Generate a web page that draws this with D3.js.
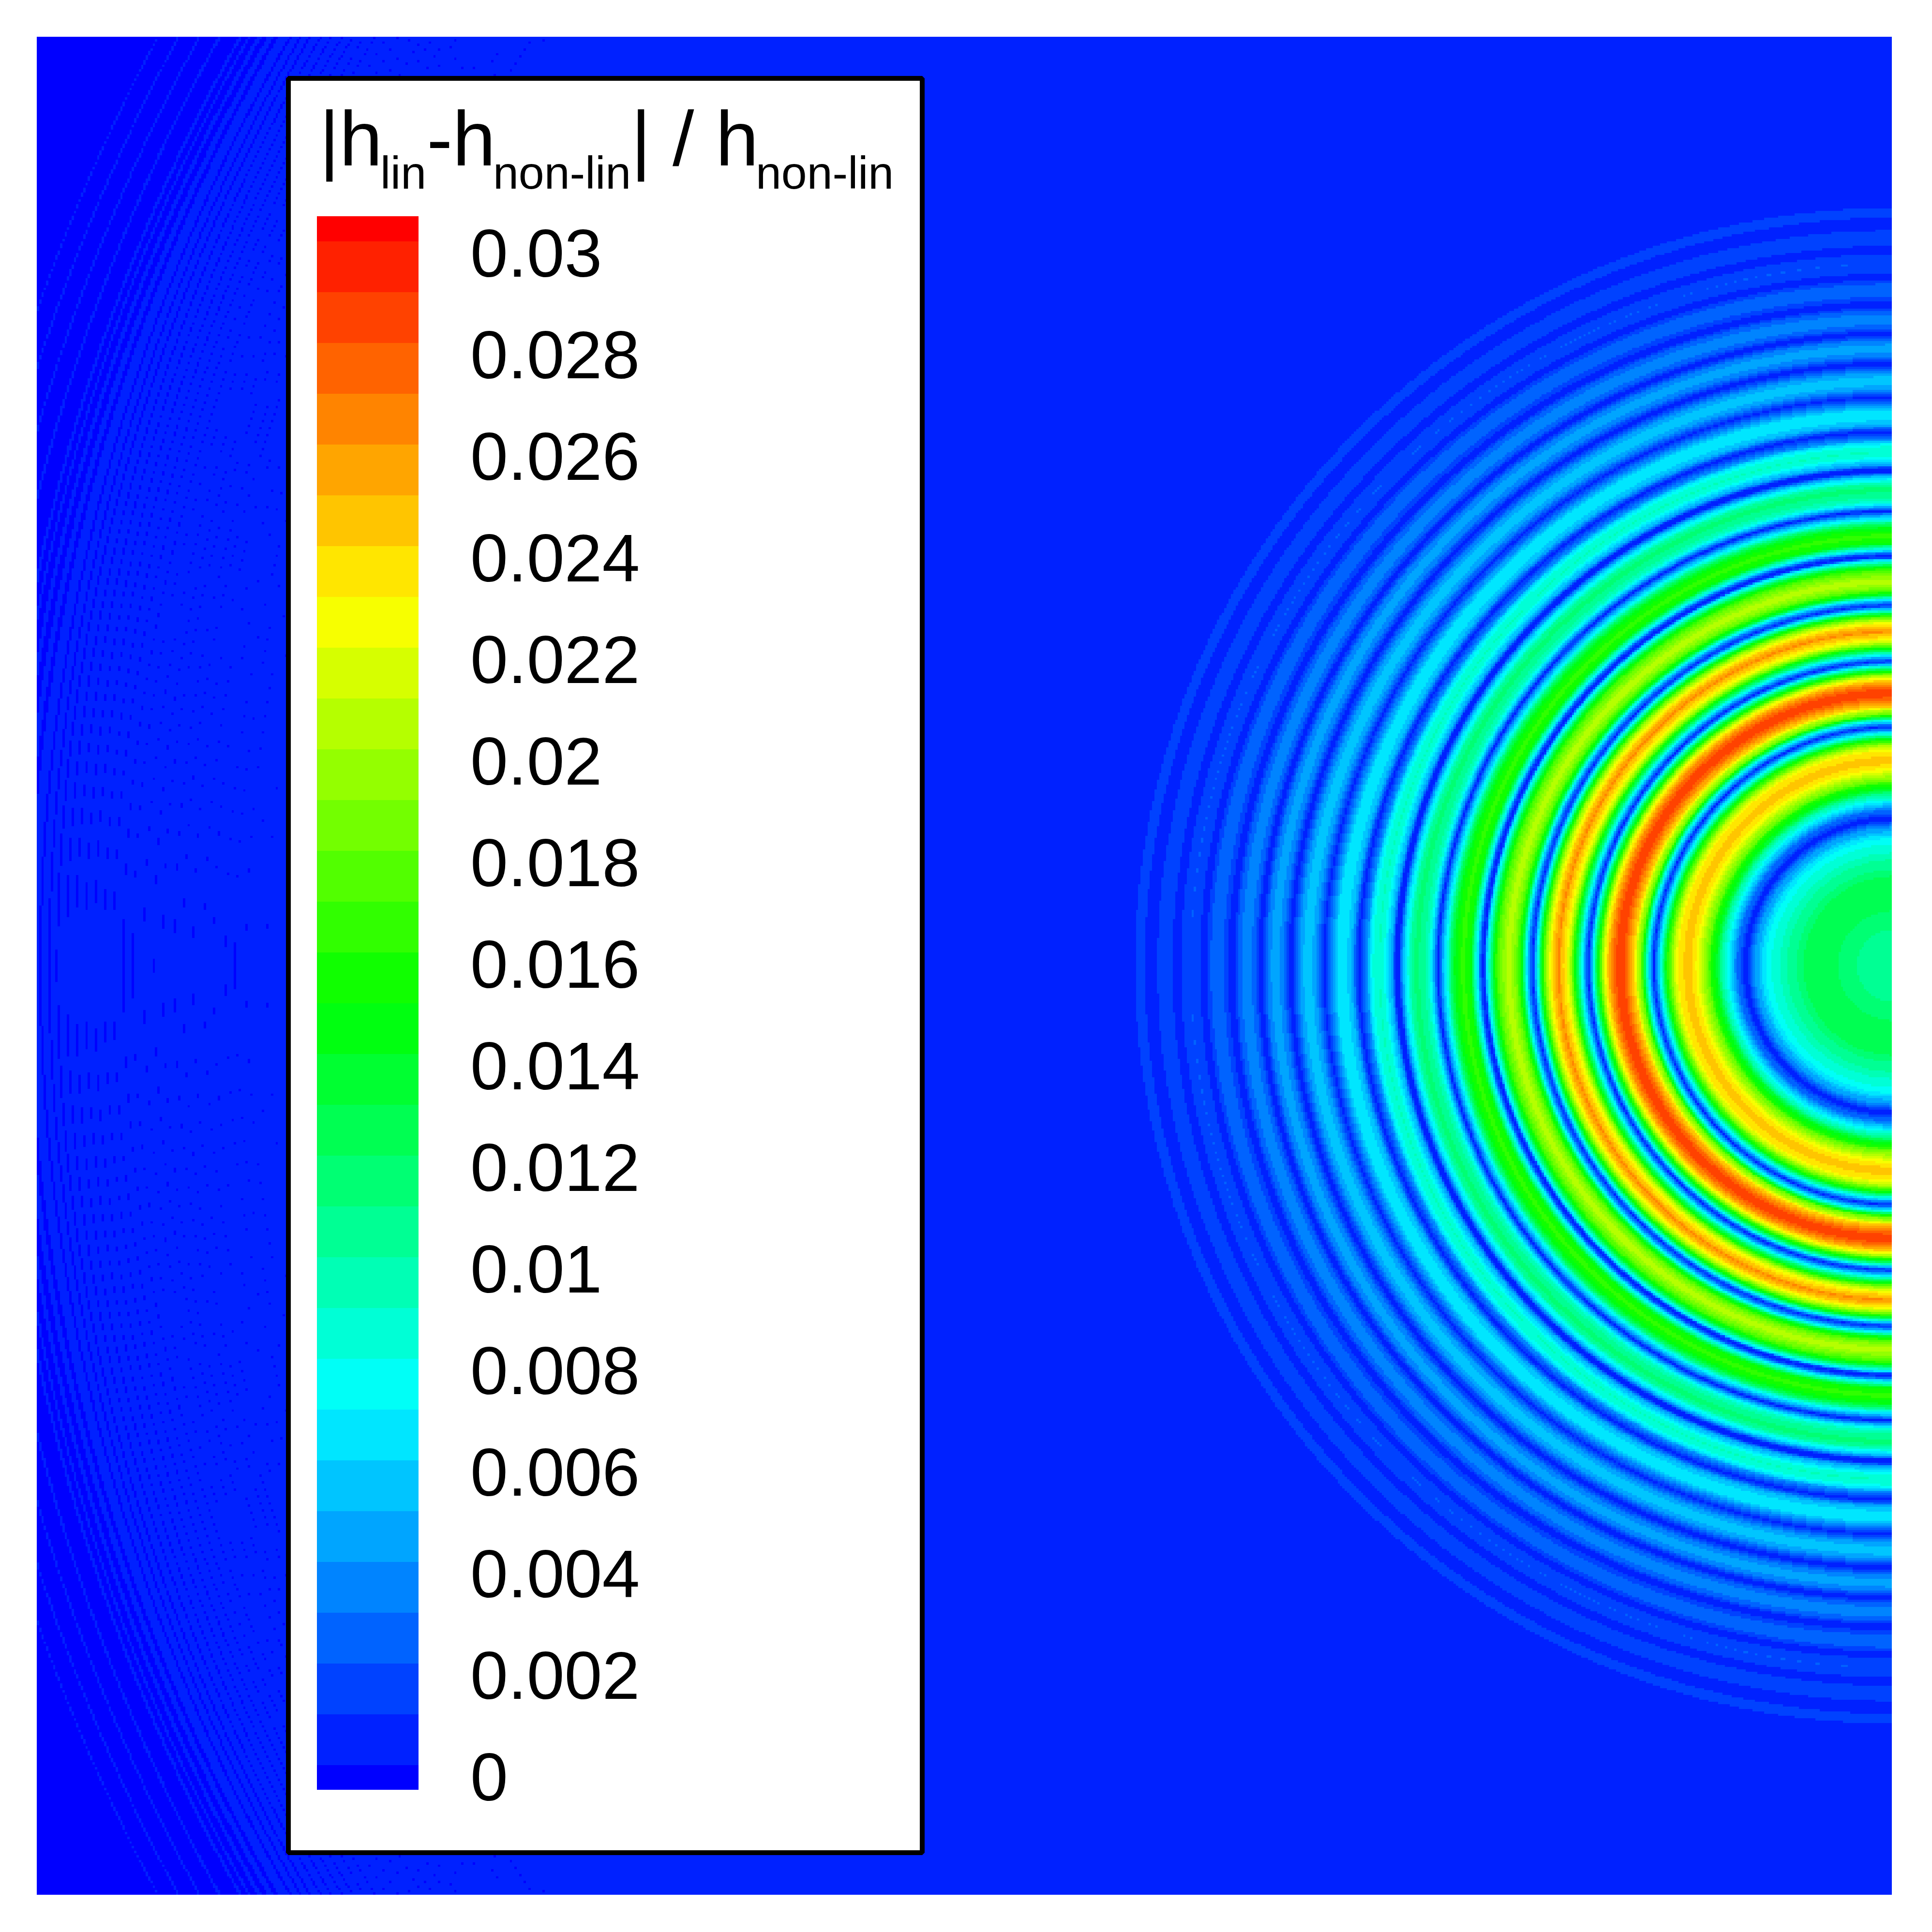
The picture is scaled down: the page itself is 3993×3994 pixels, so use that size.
<!DOCTYPE html>
<html>
<head>
<meta charset="utf-8">
<script src="https://cdnjs.cloudflare.com/ajax/libs/d3/7.8.5/d3.min.js"></script>
<style>
html,body{margin:0;padding:0;background:#fff}
#wrap{position:relative;width:3993px;height:3994px;overflow:hidden}
canvas,svg{position:absolute;left:0;top:0}
text{font-family:"Liberation Sans",Arial,sans-serif;fill:#000}
</style>
</head>
<body>
<div id="wrap"><canvas id="field" width="3993" height="3994"></canvas><svg id="over" width="3993" height="3994"></svg></div>
<script>
// contour levels and tick labels
const levelCount = 31;
const tickValues = [0,0.002,0.004,0.006,0.008,0.01,0.012,0.014,0.016,0.018,0.02,0.022,0.024,0.026,0.028,0.03];
const tickLabels = ["0","0.002","0.004","0.006","0.008","0.01","0.012","0.014","0.016","0.018","0.02","0.022","0.024","0.026","0.028","0.03"];

// radial profile: distance from the source, value in 1/1000
const profileRadius = [30,74,113,155,185,199,219,233,251,261,270,275,285,290,295,299,304,309,314,323,328,333,338,342,347,352,357,362,367,376,381,390,400,405,414,424,434,443,448,453,458,462,467,472,477,482,486,491,494,496,501,506,510,515,520,525,530,534,539,544,549,554,562,573,578,583,587,592,596,602,606,610,615,620,624,629,635,640,645,650,655,659,664,669,674,679,688,690,702,707,712,717,721,726,731,736,740,744,750,755,760,765,770,775,780,785,795,808,814,818,822,827,832,837,840,842,846,851,856,861,866,870,875,889,904,909,914,918,923,929,935,938,940,943,947,952,957,962,970,985,997,1000,1005,1009,1011,1014,1017,1019,1024,1029,1032,1035,1042,1052,1061,1072,1077,1082,1086,1091,1096,1101,1104,1106,1110,1115,1120,1129,1139,1149,1153,1158,1163,1168,1173,1175,1177,1182,1187,1192,1201,1209,1216,1225,1230,1235,1240,1245,1249,1254,1259,1269,1276,1283,1293,1297,1302,1307,1312,1317,1326,1336,1345,1355,1360,1367,1374,1384,1396,1409,1417,1425,1432,1451,1470,1480,1489,1504,1519,1533,1547,1557,1566,1569];
const profileValue = [10.6,11,12,12.6,12,11,10,9,8,7.25,6.2,5.2,4.15,3.12,2.08,1.05,0.33,1.05,2.08,3.12,4.67,5.7,6.73,7.77,8.8,9.83,11.4,13.45,14.5,16.03,18.1,19.65,21.7,22.75,23.8,24.8,23.8,23.3,21.7,20.7,18.6,17.07,15.5,12.4,9.3,6.73,4.67,2.08,0.6,2.08,4.67,7.25,10.35,14.5,18.6,19.65,21.2,23.8,24.8,25.85,26.9,27.9,28.7,27.9,26.9,25.85,24.8,23.27,21.7,18.6,16.03,13.97,10.87,7.25,3.63,0.74,3.63,6.2,8.8,11.9,13.97,16.55,19.13,21.2,22.75,23.8,25.33,26.37,24.3,22.75,21.2,19.13,17.07,14.5,10.35,6.73,3.63,0.74,3.12,5.7,8.8,13.45,15.5,17.6,18.6,19.65,20.7,18.6,17.6,16.55,15,12.93,9.83,7.25,5.2,1.57,0.53,1.57,5.2,8.3,10.35,13.45,15.5,16.34,14.5,12.93,11.4,9.3,7.25,5.2,2.6,1.05,0.53,2.08,4.15,6.2,8.3,9.3,10.35,11.5,9.83,8.3,7.25,6.2,5.2,4.15,2.6,1.05,0.33,1.05,3.12,4.67,5.9,8.3,9.1,8.3,7.25,6.2,4.15,3.12,2.08,1.05,0.33,1.05,2.08,4.15,5.2,6.2,6.94,6.2,5.2,4.15,3.12,2.08,1.05,0.33,1.05,2.08,3.12,4.15,5.2,5.9,5.2,4.15,3.12,2.08,1.05,0.33,1.05,2.08,3.12,4.15,4.87,4.15,3.12,2.08,1.05,0.33,1.05,2.08,3.12,3.84,3.12,2.08,1.05,0.33,1.05,2.08,2.8,2.08,1.05,0.33,1.05,2.03,1.05,0.33,1.05,1.57,1.05,0.33,1.05,1.46,1.05,0.33];

// far field: thin rings where the value falls below the zero level
const ringInner = [3360,3382,3403,3426.2,3445.6,3470.4,3490.4,3513,3533.7,3551.5,3575.6,3593.1,3614.3,3637,3656.2,3677.2,3696.4,3716,3734.8,3754,3772.7,3791.4,3808,3826,3850,3869,3888,3905,3921,3958,3994,4032,4069];
const ringOuter = [3360.2,3382.1,3403.4,3426.6,3446,3470.8,3490.9,3513.5,3534.4,3552.2,3576.3,3594,3615.1,3637.7,3657.5,3678.6,3698,3718,3737,3756.7,3775.9,3795.4,3812.2,3830.8,3858,3880,3900,3915,3953,3990,4028,4066,99999];

// grid
const gridSize = 800;
const fieldWidth = 3834;     // domain width of the plot, source at its right edge
const fieldHeight = 3841;

const levels = d3.range(levelCount).map(i => i * 0.001);
const jet = d3.scaleLinear()
  .domain([0, 31/4, 31/2, 93/4, 31])
  .range(["#0000ff","#00ffff","#00ff00","#ffff00","#ff0000"])
  .interpolate(d3.interpolateRgb);
const bandColors = d3.range(levelCount + 1).map(j => jet(j));
const color = d3.scaleThreshold().domain(levels).range(bandColors);

const x = d3.scaleLinear().domain([0, fieldWidth]).range([76, 3910]);
const y = d3.scaleLinear().domain([0, fieldHeight]).range([76, 3917]);
const gridX = d3.scaleLinear().domain([0, gridSize]).range([0, fieldWidth]);
const gridY = d3.scaleLinear().domain([0, gridSize]).range([0, fieldHeight]);
const profile = d3.scaleLinear().domain(profileRadius).range(profileValue).clamp(true);

const sourceX = fieldWidth + 2, sourceY = fieldHeight / 2;

function valueAt(r) {
  if (r > ringInner[0]) {
    const i = d3.bisectRight(ringInner, r) - 1;
    if (i >= 0 && r <= ringOuter[i]) return -0.0005;
  }
  return profile(r) / 1000;
}

const ctx = document.getElementById("field").getContext("2d");
for (let i = 0; i < gridSize; i++) {
  const px0 = Math.round(x(gridX(i))), px1 = Math.round(x(gridX(i + 1)));
  const cx = gridX(i + 0.5) - sourceX;
  for (let j = 0; j < gridSize; j++) {
    const py0 = Math.round(y(gridY(j))), py1 = Math.round(y(gridY(j + 1)));
    const cy = gridY(j + 0.5) - sourceY;
    ctx.fillStyle = color(valueAt(Math.hypot(cx, cy)));
    ctx.fillRect(px0, py0, px1 - px0, py1 - py0);
  }
}

// legend
const svg = d3.select("#over");
const legendY = d3.scaleLinear().domain([0, 0.03]).range([3649, 499]);

svg.append("rect")
  .attr("x", 596).attr("y", 162).attr("width", 1310).attr("height", 3668)
  .attr("fill", "#fff").attr("stroke", "#000").attr("stroke-width", 10)
  .attr("stroke-linejoin", "bevel");

const bandEdges = [0.03 + 52 / 105 * 0.001].concat(levels.slice().reverse(), [-51 / 105 * 0.001]);
svg.append("g").selectAll("rect")
  .data(d3.range(levelCount + 1))
  .join("rect")
  .attr("x", 655).attr("width", 210)
  .attr("y", d => legendY(bandEdges[levelCount - d]))
  .attr("height", d => legendY(bandEdges[levelCount - d + 1]) - legendY(bandEdges[levelCount - d]))
  .attr("fill", d => bandColors[d])
  .attr("shape-rendering", "crispEdges");

svg.append("g").selectAll("text")
  .data(tickValues)
  .join("text")
  .attr("x", 972)
  .attr("y", d => legendY(d) + 73)
  .attr("font-size", 140)
  .text((d, i) => tickLabels[i]);

const titleParts = [
  {t:"|h", x:660, sub:false},
  {t:"lin", x:786, sub:true},
  {t:"-h", x:882, sub:false},
  {t:"non-lin", x:1019, sub:true},
  {t:"| / h", x:1304, sub:false},
  {t:"non-lin", x:1562, sub:true}
];
const title = svg.append("text");
title.selectAll("tspan")
  .data(titleParts)
  .join("tspan")
  .attr("x", d => d.x)
  .attr("y", d => d.sub ? 390 : 342)
  .attr("font-size", d => d.sub ? 95 : 160)
  .attr("xml:space", "preserve")
  .text(d => d.t);
</script>
</body>
</html>
